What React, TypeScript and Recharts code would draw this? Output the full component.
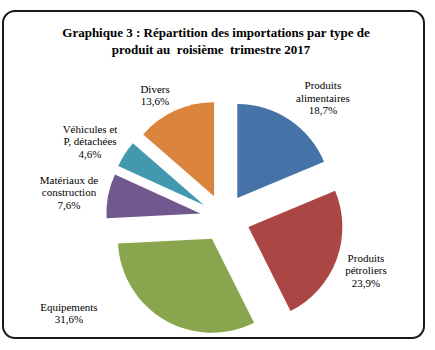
import React from 'react';
import { PieChart, Pie, Cell, Sector } from 'recharts';

const categories = [
  'Produits alimentaires',
  'Produits pétroliers',
  'Equipements',
  'Matériaux de construction',
  'Véhicules et P, détachées',
  'Divers',
];
const labelLines = [
  ['Produits', 'alimentaires'],
  ['Produits', 'pétroliers'],
  ['Equipements'],
  ['Matériaux de', 'construction'],
  ['Véhicules et', 'P, détachées'],
  ['Divers'],
];
const shares = [18.7, 23.9, 31.6, 7.6, 4.6, 13.6];
const percentLabels = ['18,7%', '23,9%', '31,6%', '7,6%', '4,6%', '13,6%'];
const colors = ['#4572A7', '#AA4643', '#89A54E', '#71588F', '#4198AF', '#DB843D'];

const data = categories.map((name, i) => ({ name, value: shares[i], idx: i }));

// label placement: angle offset (deg) from slice mid-angle and radius
const LABEL_LAYOUT = [
  { dAngle: -5.8, r: 155.6 },
  { dAngle: 0.2, r: 151.2 },
  { dAngle: -28.3, r: 181.8 },
  { dAngle: 1.3, r: 157.2 },
  { dAngle: 2.9, r: 154.5 },
  { dAngle: 4.8, r: 141 },
];
const EXPLODE = [24, 26, 24, 24, 24, 24];

const RAD = Math.PI / 180;
const FONT = '"Liberation Serif", "Times New Roman", serif';

const ExplodedSector = (props: any) => {
  const { cx, cy, midAngle } = props;
  const i = props.payload?.idx ?? props.index ?? 0;
  const d = EXPLODE[i] ?? 24;
  const dx = d * Math.cos(-midAngle * RAD);
  const dy = d * Math.sin(-midAngle * RAD);
  return <Sector {...props} cx={cx + dx} cy={cy + dy} stroke="none" />;
};

const renderLabel = (props: any) => {
  const { cx, cy, midAngle, index } = props;
  const lay = LABEL_LAYOUT[index];
  const a = (midAngle + lay.dAngle) * RAD;
  const x = cx + lay.r * Math.cos(a);
  const y = cy - lay.r * Math.sin(a);
  const lines = [...labelLines[index], percentLabels[index]];
  const lh = 12.5;
  const y0 = y - ((lines.length - 1) * lh) / 2 + 4;
  return (
    <text x={x} y={y0} textAnchor="middle" fontFamily="Liberation Serif" fontSize={11} fill="#000">
      {lines.map((l, i) => (
        <tspan key={i} x={x} y={y0 + i * lh}>
          {l}
        </tspan>
      ))}
    </text>
  );
};

export default function App() {
  return (
    <div style={{ position: 'absolute', left: 0, top: 0, width: 435, height: 350, background: '#fff' }}>
      <svg width={435} height={350} style={{ position: 'absolute', left: 0, top: 0 }}>
        <rect x={3} y={11} width={421} height={327} rx={12} ry={12} fill="#fff" stroke="#1a1a1a" strokeWidth={2} />
        <text x={216} y={37} textAnchor="middle" fontFamily={FONT} fontSize={13} fontWeight="bold" fill="#000" style={{ whiteSpace: 'pre' }}>
          Graphique 3 : Répartition des importations par type de
        </text>
        <text x={211} y={54} textAnchor="middle" fontFamily={FONT} fontSize={13} fontWeight="bold" fill="#000" style={{ whiteSpace: 'pre' }}>
          {'produit au  roisième  trimestre 2017'}
        </text>
      </svg>
      <div style={{ position: 'absolute', left: 0, top: 0 }}>
        <PieChart width={435} height={350} margin={{ top: 0, right: 0, bottom: 0, left: 0 }}>
          <Pie
            data={data}
            dataKey="value"
            nameKey="name"
            cx={224}
            cy={218}
            outerRadius={94}
            startAngle={90}
            endAngle={-270}
            stroke="none"
            isAnimationActive={false}
            shape={ExplodedSector}
            activeShape={ExplodedSector}
            inactiveShape={ExplodedSector}
            label={renderLabel}
            labelLine={false}
          >
            {data.map((d, i) => (
              <Cell key={d.name} fill={colors[i]} />
            ))}
          </Pie>
        </PieChart>
      </div>
    </div>
  );
}
